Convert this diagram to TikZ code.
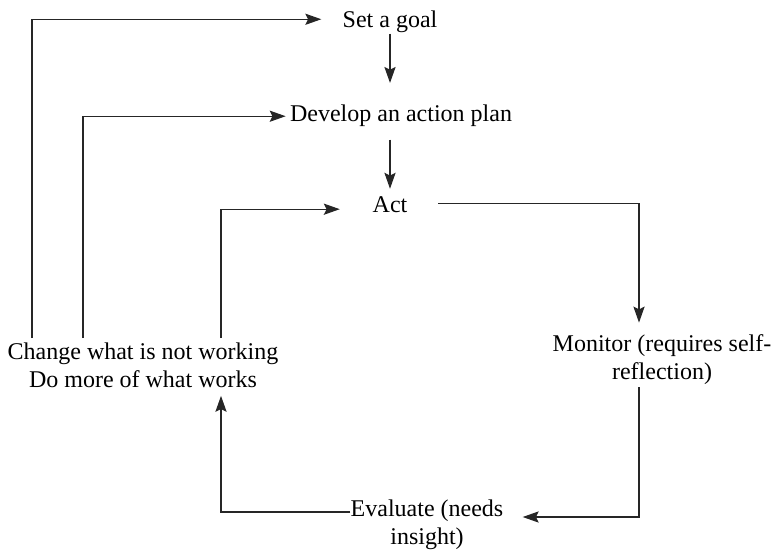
\documentclass[tikz,border=0pt]{standalone}
\usepackage{fontspec}
\setmainfont{Liberation Serif}
\usepackage{tikz}
\usetikzlibrary{arrows.meta}
\tikzstyle{every node}=[inner sep=0pt, align=center, text=black, font=\fontsize{12}{14}\selectfont]
\tikzset{flow/.style={draw=black!85, line width=0.6pt,
      -{Stealth[length=8pt, width=5.6pt, inset=1.4pt]}}}

\begin{document}
\begin{tikzpicture}[x=0.5pt, y=-0.5pt]
    \useasboundingbox (0,0) rectangle (774,550);
    \node[anchor=base] (goal) at (390,28) {Set a goal};
    \node[anchor=base] (plan) at (401,122) {Develop an action plan};
    \node[anchor=base] (act) at (390,213) {Act};
    \node (monitor) at (662,360) {Monitor (requires self-\\reflection)};
    \node (evaluate) at (427,525) {Evaluate (needs\\insight)};
    \node (change) at (143,365) {Change what is not working\\Do more of what works};
    \coordinate (lanegoal) at (32,0);
    \coordinate (laneplan) at (83,0);
    \coordinate (laneact) at (221,0);
    \coordinate (laneright) at (639,0);
    \draw[flow, shorten >=11pt] (goal.south) to (goal.south |- plan.north);
    \draw[flow, shorten <=6pt, shorten >=4pt] (plan.south -| act.north) to (act.north);
    \draw[flow, shorten <=15.25pt, shorten >=6pt] ([yshift=1pt]act.east) -| (laneright |- monitor.north);
    \draw[flow, shorten <=1pt, shorten >=9.5pt] (laneright |- monitor.south) |- ([yshift=4pt]evaluate.east);
    \draw[flow, shorten >=4pt] ([yshift=6.5pt]evaluate.west) -| (laneact |- change.south);
    \draw[flow, shorten <=2pt, shorten >=10.5pt] (lanegoal |- change.north) |- ([yshift=1.5pt]goal.west);
    \draw[flow, shorten <=2pt, shorten >=2pt] (laneplan |- change.north) |- (plan.west);
    \draw[flow, shorten <=2pt, shorten >=16.25pt] (laneact |- change.north) |- ([yshift=-2pt]act.west);
  \end{tikzpicture}
\end{document}
